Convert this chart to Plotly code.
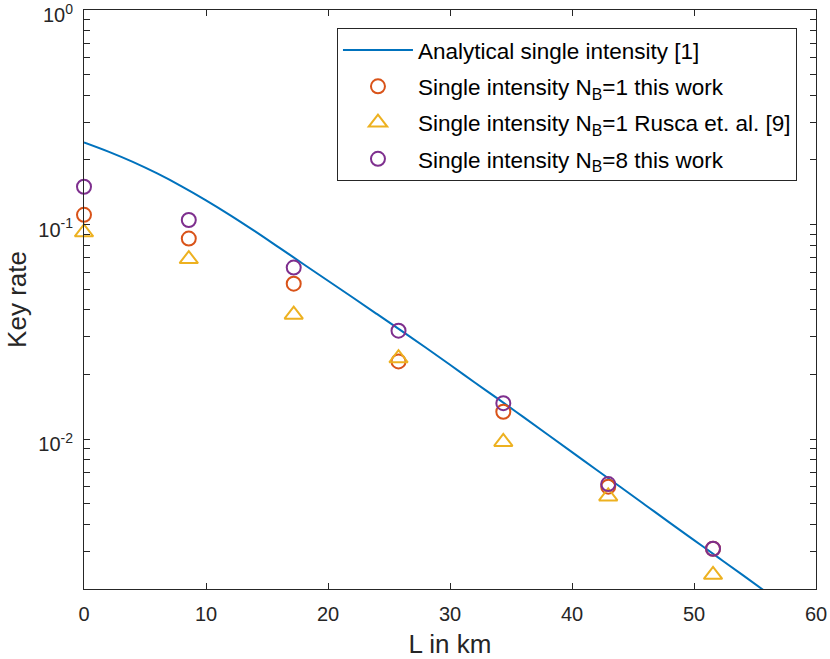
import plotly.graph_objects as go

# Analytical curve
curve_L = [0, 2, 4, 6, 8, 10, 12, 14, 16, 18, 20, 22, 24, 26, 28, 30, 32, 34,
           36, 38, 40, 42, 44, 46, 48, 50, 52, 54, 56, 58]
curve_R = [0.2415, 0.2188, 0.1959, 0.1730, 0.1507, 0.1297, 0.1104, 0.0931,
           0.0780, 0.0653, 0.0547, 0.0458, 0.0383, 0.0320, 0.0267, 0.0222,
           0.0184, 0.0153, 0.01268, 0.01050, 0.00869, 0.00719, 0.00596,
           0.00493, 0.00408, 0.00338, 0.00280, 0.00232, 0.00192, 0.00159]

# Measured points
pts_L = [0, 8.59, 17.19, 25.78, 34.37, 42.97, 51.56]
nb1_this = [0.111, 0.086, 0.053, 0.023, 0.0134, 0.0060, 0.00308]
nb1_rusca = [0.092, 0.069, 0.038, 0.0238, 0.0097, 0.0054, 0.00233]
nb8_this = [0.150, 0.105, 0.063, 0.032, 0.0147, 0.00617, 0.00308]

names = ["Analytical single intensity [1]",
         "Single intensity N<sub>B</sub>=1 this work",
         "Single intensity N<sub>B</sub>=1 Rusca et. al. [9]",
         "Single intensity N<sub>B</sub>=8 this work"]

x_ticks = [0, 10, 20, 30, 40, 50, 60]

blue, orange, yellow, purple = "#0072BD", "#D95319", "#EDB120", "#7E2F8E"
axis_col = "#262626"
font_family = "Liberation Sans, Arial, sans-serif"

fig = go.Figure()
fig.add_trace(go.Scatter(x=curve_L, y=curve_R, mode="lines", name=names[0],
                         legendgroup="g0",
                         line=dict(color=blue, width=2, shape="spline",
                                   smoothing=1)))
fig.add_trace(go.Scatter(x=pts_L, y=nb1_this, mode="markers", name=names[1],
                         legendgroup="g1", cliponaxis=False,
                         marker=dict(symbol="circle-open", size=14,
                                     color=orange, line=dict(width=2, color=orange))))
fig.add_trace(go.Scatter(x=pts_L, y=nb1_rusca, mode="markers", name=names[2],
                         legendgroup="g2", cliponaxis=False,
                         marker=dict(symbol="triangle-up-open", size=16,
                                     color=yellow, line=dict(width=2, color=yellow))))
fig.add_trace(go.Scatter(x=pts_L, y=nb8_this, mode="markers", name=names[3],
                         legendgroup="g3", cliponaxis=False,
                         marker=dict(symbol="circle-open", size=14,
                                     color=purple, line=dict(width=2, color=purple))))

# log ticks
yt_vals, yt_text = [], []
for dec in [-3, -2, -1]:
    for m in range(1, 10):
        v = m * 10 ** dec
        if v < 0.002 - 1e-12:
            continue
        yt_vals.append(v)
        yt_text.append(f"10<sup>{dec}</sup>" if m == 1 else "")
yt_vals.append(1.0)
yt_text.append("10<sup>0</sup>")

fig.update_layout(
    width=830, height=659,
    margin=dict(l=84, r=14, t=10, b=70),
    paper_bgcolor="white", plot_bgcolor="white",
    font=dict(family=font_family, size=20, color=axis_col),
    showlegend=True,
    legend=dict(x=0.974, y=0.969, xanchor="right", yanchor="top",
                bgcolor="white", bordercolor=axis_col, borderwidth=1,
                font=dict(size=22.5, color="black"), tracegroupgap=4,
                itemwidth=70),
    xaxis=dict(range=[0, 60], tickvals=x_ticks, ticks="inside", ticklen=6,
               tickcolor=axis_col, showline=True, linecolor=axis_col,
               linewidth=1, mirror="ticks", showgrid=False, zeroline=False,
               automargin=False, ticklabelstandoff=7,
               ticklabeloverflow="allow",
               title=dict(text="L in km", font=dict(size=26), standoff=13),
               tickfont=dict(size=20)),
    yaxis=dict(type="log", range=[-2.699, 0], tickvals=yt_vals,
               ticktext=yt_text, ticks="inside", ticklen=6,
               tickcolor=axis_col, showline=True, linecolor=axis_col,
               linewidth=1, mirror="ticks", showgrid=False, zeroline=False,
               automargin=False, ticklabelstandoff=6, ticklabelshift=5,
               ticklabeloverflow="allow",
               title=dict(text="Key rate", font=dict(size=26), standoff=4),
               tickfont=dict(size=20)),
)

fig.write_html("out.html",
               config={"displayModeBar": False},
               post_script="document.body.style.margin='0';")
